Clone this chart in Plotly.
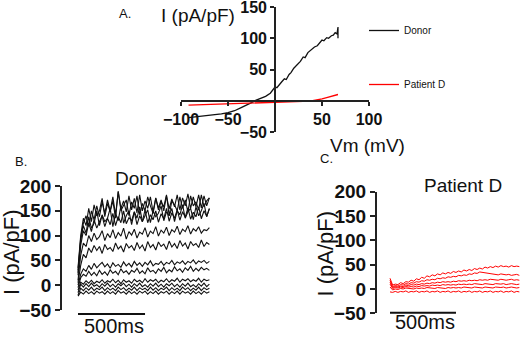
import plotly.graph_objects as go

W, H = 520, 337

# ---------------- Panel A: I-V curves ----------------
iv_donor_vm = [-92, -85, -78, -71, -64, -57, -50, -43, -36, -30, -25, -20, -15, -10, -5, -2, 0, 2, 5, 7,
               10, 12, 15, 17, 20, 22, 25, 27, 30, 32, 35, 37, 40, 42, 45, 47, 50, 52, 55, 57,
               60, 62, 64, 66, 67, 67]
iv_donor_i = [-27, -26, -25, -24, -22, -21, -19, -16, -11, -7, -3, 1, 4, 7, 12, 17, 22, 21, 27, 30,
              35, 34, 42, 45, 52, 55, 60, 63, 70, 69, 77, 80, 84, 86, 88, 92, 97, 96, 101, 100,
              104, 105, 109, 107, 118, 100]
iv_patient_vm = [-92, -80, -70, -60, -50, -40, -30, -20, -10, 0, 10, 20, 30, 40, 45, 50, 55, 60, 65, 67]
iv_patient_i = [-7, -6.5, -6, -5.5, -5, -4.5, -4, -3.5, -3, -3, -2.5, -2, -1, 0, 1, 3, 5, 7, 9, 10]
iv_x_ticks = [-100, -50, 50, 100]
iv_y_ticks = [-50, 50, 100, 150]

# ---------------- Panels B / C: current traces ----------------
t_ms = [0, 20, 40, 60, 80, 100, 120, 140, 160, 180, 200, 220, 240, 260, 280, 300, 320, 340, 360, 380,
        400, 420, 440, 460, 480, 500, 520, 540, 560, 580, 600, 620, 640, 660, 680, 700, 720, 740, 760, 780,
        800, 820, 840, 860, 880, 900, 920, 940, 960, 980]

donor_traces = [
    [-22, -14, -18, -12, -17, -13, -18, -12, -16, -13, -18, -12, -17, -13, -18, -11, -16, -13, -18, -12, -17, -13, -18, -12, -16,
     -12, -18, -13, -17, -12, -18, -13, -16, -12, -18, -13, -17, -12, -18, -12, -16, -13, -18, -12, -17, -13, -18, -12, -16, -13],
    [-20, -6, -11, -5, -10, -4, -11, -6, -9, -4, -11, -5, -10, -6, -11, -4, -9, -5, -11, -6, -10, -4, -11, -5, -9,
     -6, -11, -4, -10, -5, -11, -6, -9, -4, -11, -5, -10, -6, -11, -4, -9, -5, -11, -6, -10, -4, -11, -5, -9, -6],
    [-15, 2, -4, 3, -3, 4, -2, 1, -4, 3, -2, 4, -3, 2, -4, 3, -1, 4, -3, 2, -4, 3, -2, 4, -3,
     1, -4, 3, -2, 4, -3, 2, -4, 3, -1, 4, -3, 2, -4, 3, -2, 4, -3, 1, -4, 3, -2, 4, -3, 2],
    [-10, 6, 2, 9, 4, 10, 3, 8, 5, 11, 4, 9, 6, 12, 5, 10, 3, 11, 6, 9, 4, 12, 7, 10, 5,
     13, 6, 11, 8, 12, 5, 10, 7, 13, 6, 11, 8, 14, 6, 12, 9, 13, 7, 11, 8, 14, 6, 12, 9, 11],
    [-5, 15, 22, 18, 28, 20, 26, 19, 30, 22, 27, 20, 31, 24, 28, 21, 33, 25, 29, 22, 30, 26, 34, 24, 29,
     23, 35, 27, 30, 24, 33, 28, 36, 25, 31, 27, 37, 29, 33, 26, 35, 30, 38, 28, 34, 29, 36, 31, 34, 30],
    [0, 22, 33, 28, 40, 32, 44, 35, 41, 46, 37, 43, 34, 45, 38, 42, 36, 47, 39, 44, 37, 48, 40, 45, 38,
     46, 41, 49, 39, 44, 42, 48, 40, 46, 43, 50, 41, 47, 44, 49, 42, 48, 45, 51, 43, 49, 46, 50, 44, 48],
    [5, 40, 62, 55, 75, 66, 80, 70, 78, 64, 82, 72, 76, 68, 85, 73, 79, 67, 84, 75, 80, 70, 86, 74, 81,
     69, 88, 76, 82, 71, 87, 78, 83, 72, 89, 77, 84, 74, 90, 79, 85, 73, 88, 80, 84, 76, 91, 78, 86, 82],
    [10, 60, 85, 78, 100, 88, 105, 92, 98, 110, 90, 104, 96, 112, 94, 106, 99, 115, 93, 108, 101, 113, 95, 107, 103,
     116, 97, 109, 104, 118, 99, 111, 105, 117, 100, 112, 107, 119, 102, 113, 108, 120, 103, 114, 109, 118, 105, 112, 110, 116],
    [20, 80, 110, 100, 125, 108, 132, 115, 128, 140, 118, 135, 122, 145, 120, 138, 126, 150, 124, 136, 130, 148, 122, 140, 128,
     152, 126, 142, 132, 150, 127, 144, 134, 155, 129, 146, 135, 152, 131, 148, 137, 156, 133, 147, 138, 158, 134, 150, 139, 154],
    [25, 90, 120, 105, 138, 115, 125, 150, 120, 142, 128, 135, 155, 118, 145, 130, 160, 125, 140, 150, 122, 148, 135, 158, 128,
     140, 152, 126, 150, 138, 145, 160, 130, 148, 140, 155, 128, 150, 142, 162, 135, 148, 155, 132, 158, 140, 150, 165, 138, 155],
    [30, 95, 125, 140, 118, 150, 132, 160, 138, 168, 145, 172, 150, 178, 142, 188, 155, 170, 148, 180, 152, 175, 146, 182, 150,
     170, 155, 178, 148, 176, 156, 172, 150, 180, 154, 174, 158, 182, 152, 176, 160, 184, 155, 178, 158, 182, 156, 180, 160, 176],
    [35, 100, 135, 120, 155, 128, 162, 140, 150, 175, 138, 165, 148, 170, 135, 190, 150, 160, 172, 140, 168, 155, 180, 142, 165,
     150, 178, 160, 145, 175, 152, 168, 158, 182, 140, 170, 162, 150, 178, 155, 172, 148, 180, 160, 168, 152, 182, 158, 170, 176],
]

patient_traces = [
    [22, 8, 10, 9, 13, 11, 15, 14, 18, 16, 21, 19, 24, 22, 27, 25, 29, 27, 31, 29, 33, 31, 34, 32, 36,
     34, 37, 35, 39, 37, 40, 38, 42, 40, 43, 41, 45, 43, 46, 44, 47, 45, 48, 46, 47, 45, 48, 46, 47, 46],
    [18, 5, 7, 6, 9, 8, 11, 10, 13, 12, 15, 14, 17, 16, 19, 18, 20, 19, 22, 21, 23, 22, 25, 24, 26,
     25, 28, 27, 29, 28, 31, 30, 33, 32, 35, 34, 33, 32, 31, 30, 30, 29, 31, 30, 29, 30, 28, 29, 30, 28],
    [14, 3, 5, 4, 6, 5, 8, 7, 9, 8, 10, 9, 11, 10, 12, 11, 13, 12, 14, 13, 15, 14, 15, 14, 16,
     15, 17, 16, 17, 16, 18, 17, 18, 17, 19, 18, 19, 18, 20, 19, 19, 18, 20, 19, 18, 19, 20, 18, 19, 18],
    [10, 1, 3, 2, 4, 3, 5, 4, 5, 4, 6, 5, 7, 6, 7, 6, 8, 7, 8, 7, 9, 8, 9, 8, 9,
     8, 10, 9, 10, 9, 10, 9, 11, 10, 10, 9, 11, 10, 10, 9, 11, 10, 10, 11, 9, 10, 11, 10, 9, 10],
    [4, -2, 0, -1, 1, 0, 2, 1, 1, 0, 2, 1, 2, 1, 3, 2, 2, 1, 3, 2, 2, 1, 3, 2, 3,
     2, 3, 2, 4, 3, 3, 2, 4, 3, 3, 2, 4, 3, 3, 2, 4, 3, 3, 4, 2, 3, 4, 3, 2, 3],
    [-6, -7, -5, -7, -5, -6, -4, -7, -5, -6, -4, -7, -5, -6, -4, -7, -5, -6, -4, -7, -5, -6, -4, -7, -5,
     -6, -4, -7, -5, -6, -4, -7, -5, -6, -4, -7, -5, -6, -4, -7, -5, -6, -4, -7, -5, -6, -4, -7, -5, -6],
]
trace_y_ticks = [-50, 0, 50, 100, 150, 200]
scale_bar_ms = [0, 500]

FONT = "Liberation Sans"
BLACK = "#111111"
RED = "#ff0000"


def px(x):
    return x / W


def py(y):
    return 1 - y / H


fig = go.Figure()

# Panel A
fig.add_trace(go.Scatter(x=iv_donor_vm, y=iv_donor_i, mode="lines", name="Donor",
                         line=dict(color=BLACK, width=1.3), legendgroup="d",
                         xaxis="x", yaxis="y"))
fig.add_trace(go.Scatter(x=iv_patient_vm, y=iv_patient_i, mode="lines", name="Patient D",
                         line=dict(color=RED, width=1.3), legendgroup="p",
                         xaxis="x", yaxis="y"))

# Panel B
for tr in donor_traces:
    fig.add_trace(go.Scatter(x=t_ms, y=tr, mode="lines", showlegend=False,
                             line=dict(color=BLACK, width=1.1), xaxis="x2", yaxis="y2"))
# Panel C
for tr in patient_traces:
    fig.add_trace(go.Scatter(x=t_ms, y=tr, mode="lines", showlegend=False,
                             line=dict(color=RED, width=1), xaxis="x3", yaxis="y3"))

axis_common = dict(showgrid=False, zeroline=False, showline=True, linecolor="#222222",
                   linewidth=1.6, ticks="outside", tickcolor="#222222", tickwidth=1.6,
                   automargin=False, ticklabeloverflow="allow")
hidden = dict(showgrid=False, zeroline=False, showline=False, showticklabels=False, ticks="",
              automargin=False)
bold16 = dict(family=FONT, size=16, color="#111111", weight="bold")
bold19 = dict(family=FONT, size=19, color="#111111", weight="bold")

fig.update_layout(
    width=W, height=H,
    margin=dict(l=0, r=0, t=0, b=0, pad=0, autoexpand=False),
    paper_bgcolor="white", plot_bgcolor="white",
    font=dict(family=FONT, color="#111111"),
    xaxis=dict(domain=[px(181), px(369)], range=[-100, 100], anchor="free", position=py(100.75),
               tickvals=iv_x_ticks, ticklen=4, tickfont=bold16, **axis_common),
    yaxis=dict(domain=[py(132), py(7)], range=[-50, 150], anchor="free", position=px(275),
               tickvals=iv_y_ticks, ticklen=4, tickfont=bold16, **axis_common),
    xaxis2=dict(domain=[px(62), px(215)], range=[-119.4, 1022], anchor="y2", **hidden),
    yaxis2=dict(domain=[py(310), py(186)], range=[-50, 200], anchor="x2",
                tickvals=trace_y_ticks, ticklen=5, tickfont=bold19, **axis_common),
    xaxis3=dict(domain=[px(376.7), 1.0], range=[-100.8, 985], anchor="y3", **hidden),
    yaxis3=dict(domain=[py(313.3), py(191.7)], range=[-50, 200], anchor="x3",
                tickvals=trace_y_ticks, ticklen=5, tickfont=bold19, **axis_common),
    showlegend=True,
    legend=dict(x=px(364), y=py(16), xanchor="left", yanchor="top",
                bgcolor="rgba(0,0,0,0)", borderwidth=0, tracegroupgap=35,
                font=dict(family=FONT, size=10, color="#111111")),
)

shapes = [
    dict(type="line", xref="x2", yref="paper", x0=scale_bar_ms[0], x1=scale_bar_ms[1],
         y0=py(314), y1=py(314), line=dict(color=BLACK, width=2)),
    dict(type="line", xref="x3", yref="paper", x0=scale_bar_ms[0], x1=scale_bar_ms[1],
         y0=py(312.7), y1=py(312.7), line=dict(color=BLACK, width=2)),
]
fig.update_layout(shapes=shapes)


def ann(text, x, y, size, angle=0, xanchor="center"):
    return dict(text=text, x=px(x), y=py(y), xref="paper", yref="paper", showarrow=False,
                xanchor=xanchor, yanchor="middle", textangle=angle,
                font=dict(family=FONT, size=size, color="#111111"))


annotations = [
    ann("A.", 117, 13, 13, xanchor="left"),
    ann("I (pA/pF)", 197.5, 16, 19),
    ann("Vm (mV)", 367.5, 145, 19),
    ann("B.", 13, 162, 13, xanchor="left"),
    ann("Donor", 141, 178, 19),
    ann("I (pA/pF)", 12, 252, 22, angle=-90),
    ann("500ms", 113.5, 326, 20),
    ann("C.", 318, 158, 13, xanchor="left"),
    ann("Patient D", 463, 185, 19),
    ann("I (pA/pF)", 325, 253.5, 22, angle=-90),
    ann("500ms", 424.5, 322, 20),
]
fig.update_layout(annotations=annotations)

fig.write_html("out.html", config={"displayModeBar": False},
               post_script="document.body.style.margin='0';document.body.style.padding='0';")
